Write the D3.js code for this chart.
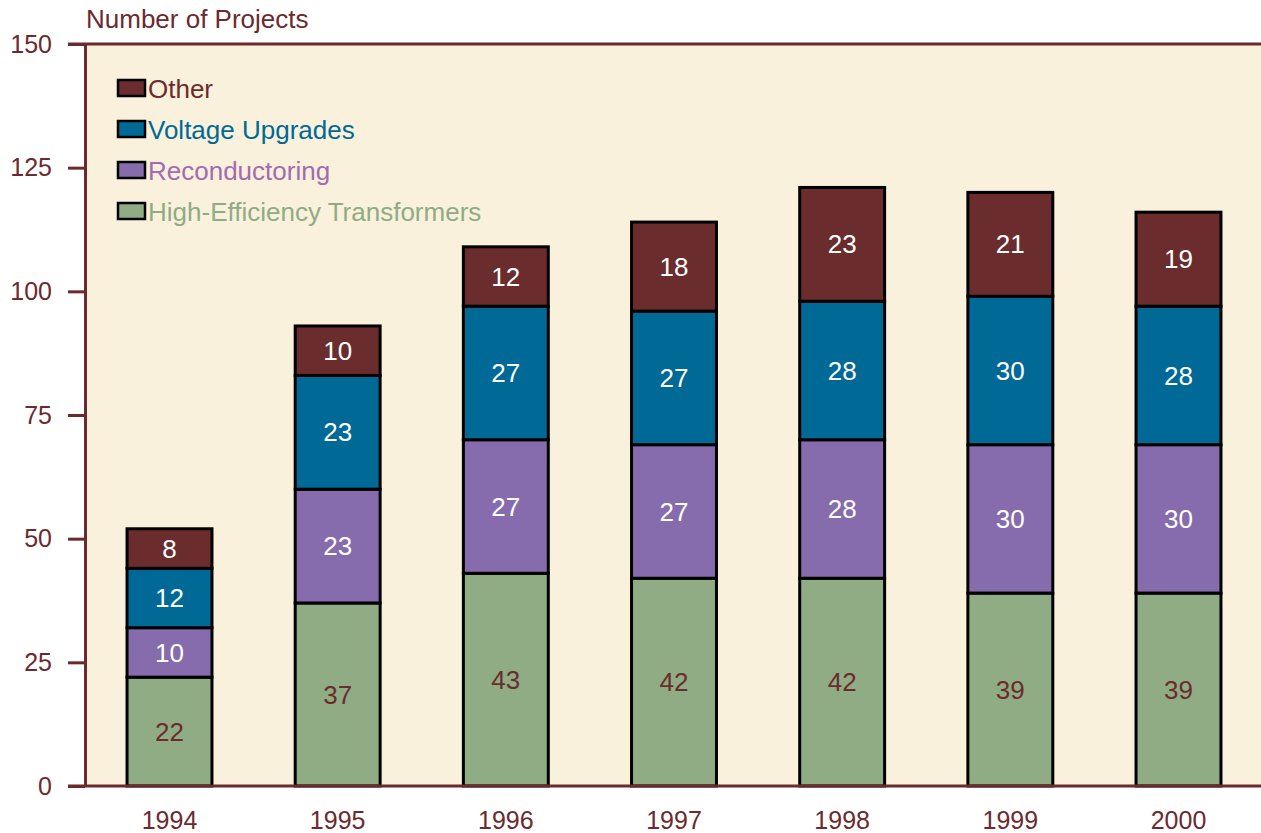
<!DOCTYPE html>
<html>
<head>
<meta charset="utf-8">
<script src="https://cdn.jsdelivr.net/npm/d3@7"></script>
<style>
  body { margin: 0; background: #fff; }
  text { font-family: "Liberation Sans", Arial, sans-serif; }
</style>
</head>
<body>
<div id="chart"></div>
<script>
const years = ["1994", "1995", "1996", "1997", "1998", "1999", "2000"];
const seriesNames = ["High-Efficiency Transformers", "Reconductoring", "Voltage Upgrades", "Other"];
const highEfficiency = [22, 37, 43, 42, 42, 39, 39];
const reconductoring = [10, 23, 27, 27, 28, 30, 30];
const voltageUpgrades = [12, 23, 27, 27, 28, 30, 28];
const other = [8, 10, 12, 18, 23, 21, 19];
const yTicks = [0, 25, 50, 75, 100, 125, 150];

const colors = ["#8fac84", "#866bad", "#006996", "#6b2c2e"];
const legendTextColors = ["#8fac84", "#a36bb0", "#006996", "#6b2c2e"];
const labelColors = ["#6b2c2e", "#fff", "#fff", "#fff"];
const axisColor = "#6b2a2e";

const data = years.map((yr, i) => ({
  year: yr,
  "High-Efficiency Transformers": highEfficiency[i],
  "Reconductoring": reconductoring[i],
  "Voltage Upgrades": voltageUpgrades[i],
  "Other": other[i]
}));

const width = 1261, height = 833,
  margin = ({ top: 44, right: 0, bottom: 47, left: 85 });

const svg = d3.select("#chart")
  .append("svg")
  .attr("width", width)
  .attr("height", height);

const x = d3.scaleBand()
  .domain(years)
  .range([margin.left, width + 2])
  .paddingInner(0.495)
  .paddingOuter(0.25);

const y = d3.scaleLinear()
  .domain([0, 150])
  .range([height - margin.bottom, margin.top]);

// plot background
svg.append("rect")
  .attr("x", margin.left)
  .attr("y", margin.top)
  .attr("width", width - margin.left)
  .attr("height", y(0) - margin.top)
  .attr("fill", "#f9f1db");

const stacked = d3.stack().keys(seriesNames)(data);

const groups = svg.append("g")
  .selectAll("g")
  .data(stacked)
  .join("g")
    .attr("fill", (d, i) => colors[i]);

groups.selectAll("rect")
  .data(d => d)
  .join("rect")
    .attr("x", d => x(d.data.year))
    .attr("y", d => y(d[1]))
    .attr("width", x.bandwidth())
    .attr("height", d => y(d[0]) - y(d[1]))
    .attr("stroke", "#000")
    .attr("stroke-width", 3);

groups.each(function(s, i) {
  d3.select(this).selectAll("text")
    .data(s)
    .join("text")
      .attr("x", d => x(d.data.year) + x.bandwidth() / 2)
      .attr("y", d => (y(d[0]) + y(d[1])) / 2)
      .attr("dy", "0.35em")
      .attr("text-anchor", "middle")
      .attr("fill", labelColors[i])
      .attr("font-size", 26)
      .text(d => d[1] - d[0]);
});

// y axis
const yAxis = svg.append("g")
  .attr("transform", `translate(${margin.left},0)`)
  .call(d3.axisLeft(y).tickValues(yTicks).tickSize(17).tickPadding(16).tickSizeOuter(0));
yAxis.select(".domain").attr("stroke", axisColor).attr("stroke-width", 3);
yAxis.selectAll(".tick line").attr("stroke", axisColor).attr("stroke-width", 3);
yAxis.selectAll(".tick text")
  .attr("fill", axisColor)
  .attr("font-size", 25)
  .attr("font-family", "Liberation Sans, Arial, sans-serif");

// top and bottom rules
svg.append("line")
  .attr("x1", margin.left - 17).attr("x2", width)
  .attr("y1", y(150)).attr("y2", y(150))
  .attr("stroke", axisColor).attr("stroke-width", 3);
svg.append("line")
  .attr("x1", margin.left - 17).attr("x2", width)
  .attr("y1", y(0)).attr("y2", y(0))
  .attr("stroke", axisColor).attr("stroke-width", 3);

// x labels
svg.append("g")
  .selectAll("text")
  .data(years)
  .join("text")
    .attr("x", d => x(d) + x.bandwidth() / 2)
    .attr("y", y(0) + 43)
    .attr("text-anchor", "middle")
    .attr("fill", axisColor)
    .attr("font-size", 25)
    .text(d => d);

svg.append("text")
  .attr("x", 86)
  .attr("y", 28)
  .attr("fill", axisColor)
  .attr("font-size", 26)
  .text("Number of Projects");

// legend, top entry is Other
const legend = svg.append("g")
  .selectAll("g")
  .data(seriesNames.slice().reverse())
  .join("g")
    .attr("transform", (d, i) => `translate(118,${80 + i * 41})`);

legend.append("rect")
  .attr("width", 27)
  .attr("height", 16)
  .attr("fill", d => colors[seriesNames.indexOf(d)])
  .attr("stroke", "#000")
  .attr("stroke-width", 2.5);

legend.append("text")
  .attr("x", 30)
  .attr("y", 9)
  .attr("dy", "0.35em")
  .attr("fill", d => legendTextColors[seriesNames.indexOf(d)])
  .attr("font-size", 26)
  .text(d => d);
</script>
</body>
</html>
